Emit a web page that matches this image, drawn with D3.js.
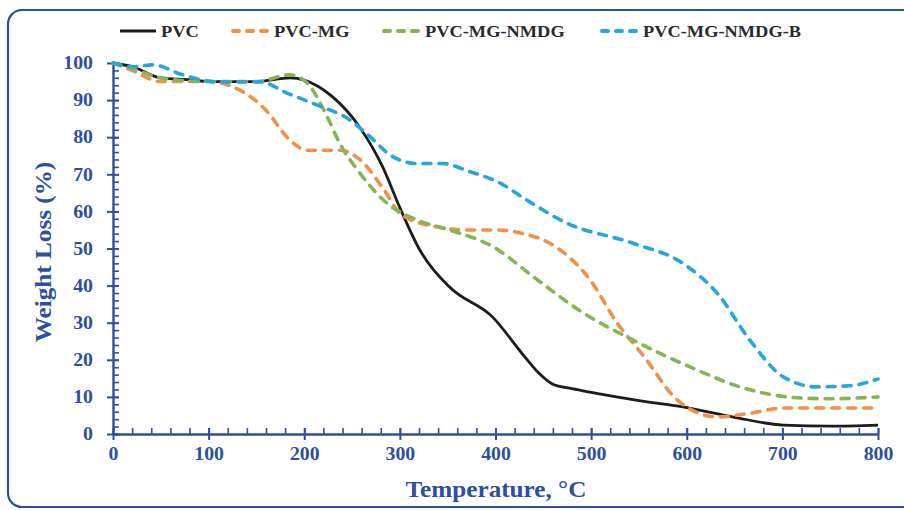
<!DOCTYPE html>
<html>
<head>
<meta charset="utf-8">
<script src="https://cdn.jsdelivr.net/npm/d3@7"></script>
<style>
  body { margin: 0; background: #fff; }
  svg text { font-family: "Liberation Serif", "Times New Roman", serif; font-weight: bold; }
</style>
</head>
<body>
<div class="wrapper"></div>
<script>
// temperature (°C) / weight (%)
var pvcT    = [0, 20, 50, 80, 100, 150, 185, 200, 230, 258, 282, 300, 320, 352, 397, 430, 445, 460, 480, 500, 550, 596, 650, 701, 750, 800];
var pvcW    = [100, 99, 96, 95.5, 95, 95, 96, 95.4, 90.8, 82.7, 72, 61, 50, 39.6, 31.5, 21, 16.5, 13.4, 12.2, 11.2, 9, 7.3, 4.5, 2.4, 2.1, 2.4];

var mgT     = [0, 20, 50, 100, 126, 161, 182, 203, 237, 258, 283, 300, 335, 370, 400, 429, 457, 499, 527, 555, 590, 632, 666, 701, 750, 800];
var mgW     = [100, 98, 95, 95, 93.5, 87, 80, 76.5, 76.5, 74, 66, 59.5, 56, 55, 55, 54, 51.4, 41.5, 30, 21, 9.2, 4.6, 5.6, 7, 7, 7];

var nmdgT   = [0, 20, 50, 100, 150, 185, 203, 224, 237, 258, 283, 318, 352, 398, 440, 492, 544, 604, 666, 719, 750, 800];
var nmdgW   = [100, 98.5, 96, 95, 95, 96.8, 94.6, 85.5, 78.4, 70.4, 63, 57.7, 55, 50.4, 42.3, 32.6, 25.3, 18, 11.9, 9.7, 9.5, 10];

var nmdgbT  = [0, 20, 42, 73, 109, 154, 182, 213, 248, 265, 293, 318, 345, 370, 405, 433, 475, 544, 596, 632, 666, 701, 736, 770, 800];
var nmdgbW  = [100, 99, 99.5, 96.8, 94.9, 94.9, 91.9, 88.7, 84.6, 81, 74.7, 72.9, 72.9, 71, 67.6, 63, 56.8, 51.4, 46, 37.9, 25.3, 15.4, 12.7, 13, 14.8];

var seriesNames  = ["PVC", "PVC-MG", "PVC-MG-NMDG", "PVC-MG-NMDG-B"];
var seriesColors = ["#1c1c1c", "#f0914a", "#86b457", "#27a6de"];
var xTicks = [0, 100, 200, 300, 400, 500, 600, 700, 800];
var yTicks = [0, 10, 20, 30, 40, 50, 60, 70, 80, 90, 100];

var width = 904, height = 510;
var blue = "#2c4f9e";

var svg = d3.select(".wrapper").append("svg")
    .attr("width", width)
    .attr("height", height);

// rounded frame round the whole chart
svg.append("rect")
    .attr("x", 8).attr("y", 10)
    .attr("width", 930).attr("height", 497)
    .attr("rx", 14)
    .attr("fill", "none")
    .attr("stroke", blue)
    .attr("stroke-width", 2.2);

var x = d3.scaleLinear().domain([0, 800]).range([113, 878]);
var y = d3.scaleLinear().domain([0, 100]).range([434, 63]);

// the reference font is a bit wider than Liberation Serif
function widen(sel, k) {
    sel.each(function() {
        var t = d3.select(this);
        var tx = +t.attr("x") || 0;
        t.attr("x", tx / k).attr("transform", "scale(" + k + ",1)");
    });
}

// minor ticks (inside)
svg.append("g")
    .attr("transform", "translate(0," + y(0) + ")")
    .call(d3.axisTop(x).tickValues(d3.range(0, 801, 20)).tickSize(6).tickFormat(""))
    .call(function(g) { g.select(".domain").remove(); })
    .selectAll("line").attr("stroke", blue).attr("stroke-width", 1.6);

svg.append("g")
    .attr("transform", "translate(" + x(0) + ",0)")
    .call(d3.axisRight(y).tickValues(d3.range(0, 101, 2)).tickSize(6).tickFormat(""))
    .call(function(g) { g.select(".domain").remove(); })
    .selectAll("line").attr("stroke", blue).attr("stroke-width", 1.6);

// main axes
var xAxis = svg.append("g")
    .attr("transform", "translate(0," + y(0) + ")")
    .call(d3.axisBottom(x).tickValues(xTicks).tickSize(6).tickPadding(7).tickSizeOuter(0));

var yAxis = svg.append("g")
    .attr("transform", "translate(" + x(0) + ",0)")
    .call(d3.axisLeft(y).tickValues(yTicks).tickSize(6).tickPadding(14).tickSizeOuter(0));

[xAxis, yAxis].forEach(function(g) {
    g.select(".domain").attr("stroke", blue).attr("stroke-width", 2.4);
    g.selectAll(".tick line").attr("stroke", blue).attr("stroke-width", 2);
    g.selectAll(".tick text")
        .attr("fill", blue)
        .style("font-size", "18px")
        .call(widen, 1.1);
});
// major ticks cross the axis
xAxis.selectAll(".tick line").attr("y1", -6);
yAxis.selectAll(".tick line").attr("x1", 6);

// axis titles
svg.append("text")
    .attr("transform", "translate(496,497) scale(1.05,1)")
    .attr("text-anchor", "middle")
    .attr("fill", blue)
    .style("font-size", "24px")
    .text("Temperature, °C");

svg.append("text")
    .attr("transform", "translate(51,252) rotate(-90) scale(1.05,1)")
    .attr("text-anchor", "middle")
    .attr("fill", blue)
    .style("font-size", "24px")
    .text("Weight Loss (%)");

// curves
var data = [
    d3.zip(pvcT, pvcW),
    d3.zip(mgT, mgW),
    d3.zip(nmdgT, nmdgW),
    d3.zip(nmdgbT, nmdgbW)
];

var line = d3.line()
    .x(function(d) { return x(d[0]); })
    .y(function(d) { return y(d[1]); })
    .curve(d3.curveMonotoneX);

data.forEach(function(s, i) {
    svg.append("path")
        .datum(s)
        .attr("d", line)
        .attr("fill", "none")
        .attr("stroke", seriesColors[i])
        .attr("stroke-width", i === 0 ? 2.8 : 3.6)
        .attr("stroke-linecap", i === 0 ? "butt" : "round")
        .attr("stroke-dasharray", i === 0 ? null : "8,8");
});

// legend
var legendX = [118, 231, 382, 600];
var legend = svg.append("g");
seriesNames.forEach(function(name, i) {
    var gx = legendX[i];
    legend.append("line")
        .attr("x1", gx + 2).attr("x2", gx + 38)
        .attr("y1", 31).attr("y2", 31)
        .attr("stroke", seriesColors[i])
        .attr("stroke-width", i === 0 ? 3 : 4)
        .attr("stroke-linecap", i === 0 ? "butt" : "round")
        .attr("stroke-dasharray", i === 0 ? null : "6,8");
    legend.append("text")
        .attr("transform", "translate(" + (gx + 43) + ",37) scale(1.08,1)")
        .attr("fill", "#2a2a2a")
        .style("font-size", "17px")
        .text(name);
});
</script>
</body>
</html>
